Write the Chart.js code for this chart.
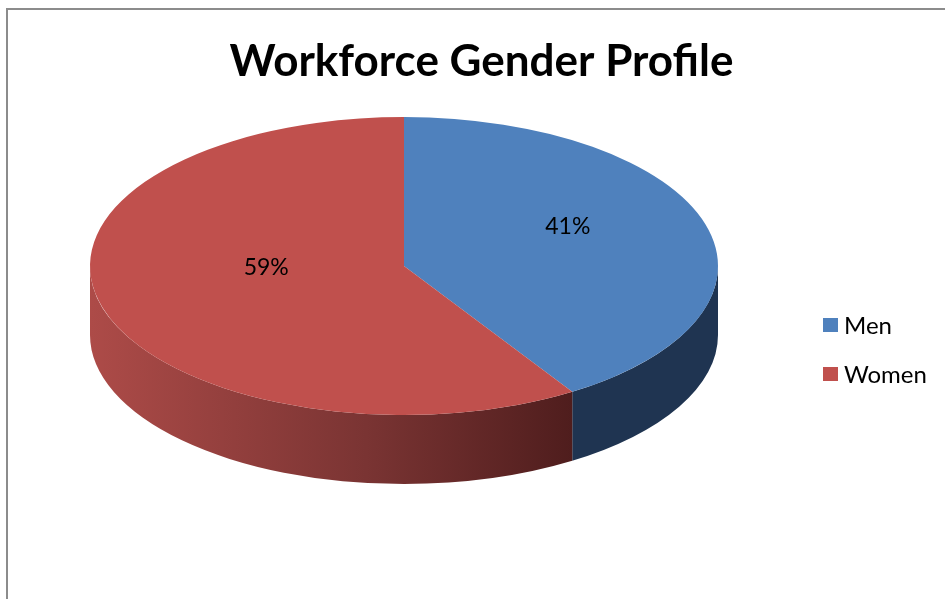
<!DOCTYPE html>
<html>
<head>
<meta charset="utf-8">
<script src="https://cdn.jsdelivr.net/npm/chart.js@4.4.1/dist/chart.umd.min.js"></script>
<style>
  html, body { margin: 0; padding: 0; background: #fff; }
  #wrap { width: 945px; height: 599px; position: relative; }
</style>
</head>
<body>
<div id="wrap"><canvas id="pie"></canvas></div>
<script>
// Workforce gender profile - 3D-look pie drawn with Chart.js arcs
const chartTitle = 'Workforce Gender Profile';
const categories = ['Men', 'Women'];
const shares = [41, 59];
const topColors = ['#4f81bd', '#c0504d'];

// ellipse geometry of the tilted pie (screen px)
const CX = 404, CY = 266, RX = 314, RY = 149, DEPTH = 69;
const FONT = 'Lato, "Open Sans", sans-serif';

function sideFill(ctx, i) {
    if (i === 0) return '#1f3451';
    const g = ctx.createLinearGradient(CX - RX, 0, 592, 0);
    g.addColorStop(0, '#ad4b48');
    g.addColorStop(0.55, '#7a3433');
    g.addColorStop(1, '#4b1b1b');
    return g;
}

const pie3d = {
    id: 'pie3d',
    beforeDraw(chart) {
        const ctx = chart.ctx;
        ctx.save();
        ctx.strokeStyle = '#8c8c8c';
        ctx.lineWidth = 2;
        ctx.strokeRect(7, 9, 960, 620);
        ctx.restore();
    },
    beforeDatasetsDraw(chart) {
        const ctx = chart.ctx;
        const arcs = chart.getDatasetMeta(0).data;
        // visible front wall: angles 0..PI (canvas coords)
        arcs.forEach((arc, i) => {
            const a1 = Math.max(arc.startAngle, 0);
            const a2 = Math.min(arc.endAngle, Math.PI);
            if (a2 <= a1) return;
            ctx.beginPath();
            ctx.ellipse(CX, CY, RX, RY, 0, a1, a2);
            ctx.ellipse(CX, CY + DEPTH, RX, RY, 0, a2, a1, true);
            ctx.closePath();
            ctx.fillStyle = sideFill(ctx, i);
            ctx.fill();
        });
        // squash the library's circle into the top ellipse
        const a0 = arcs[0];
        const R = a0.outerRadius;
        ctx.save();
        ctx.translate(CX, CY);
        ctx.scale(RX / R, RY / R);
        ctx.translate(-a0.x, -a0.y);
    },
    afterDatasetsDraw(chart) {
        const ctx = chart.ctx;
        ctx.restore();
        const arcs = chart.getDatasetMeta(0).data;
        const total = shares.reduce((a, b) => a + b, 0);
        ctx.save();
        ctx.fillStyle = '#000';
        ctx.font = '23px ' + FONT;
        ctx.textAlign = 'center';
        ctx.textBaseline = 'middle';
        arcs.forEach((arc, i) => {
            const mid = (arc.startAngle + arc.endAngle) / 2;
            const x = CX + RX * 0.5 * Math.cos(mid) + 13;
            const y = CY + RY * 0.5 * Math.sin(mid) - 19;
            ctx.fillText(Math.round(shares[i] / total * 100) + '%', x, y);
        });
        ctx.restore();
    },
    afterDraw(chart) {
        const ctx = chart.ctx;
        ctx.save();
        ctx.font = '24px ' + FONT;
        ctx.textBaseline = 'middle';
        ctx.textAlign = 'left';
        categories.forEach((name, i) => {
            const y = 325 + i * 49;
            ctx.fillStyle = topColors[i];
            ctx.fillRect(823, y - 7, 15, 14);
            ctx.fillStyle = '#000';
            ctx.fillText(name, 844, y + 1);
        });
        ctx.restore();
    }
};

new Chart(document.getElementById('pie'), {
    type: 'pie',
    data: {
        labels: categories,
        datasets: [{
            data: shares,
            backgroundColor: topColors,
            borderWidth: 0,
            clip: false
        }]
    },
    options: {
        responsive: true,
        maintainAspectRatio: false,
        animation: false,
        events: [],
        layout: { padding: { left: 18 } },
        plugins: {
            legend: { display: false },
            tooltip: { enabled: false },
            title: {
                display: true,
                text: chartTitle,
                color: '#000',
                font: { family: FONT, size: 44, weight: 'bold' },
                padding: { top: 35, bottom: 10 }
            }
        }
    },
    plugins: [pie3d]
});
</script>
</body>
</html>
